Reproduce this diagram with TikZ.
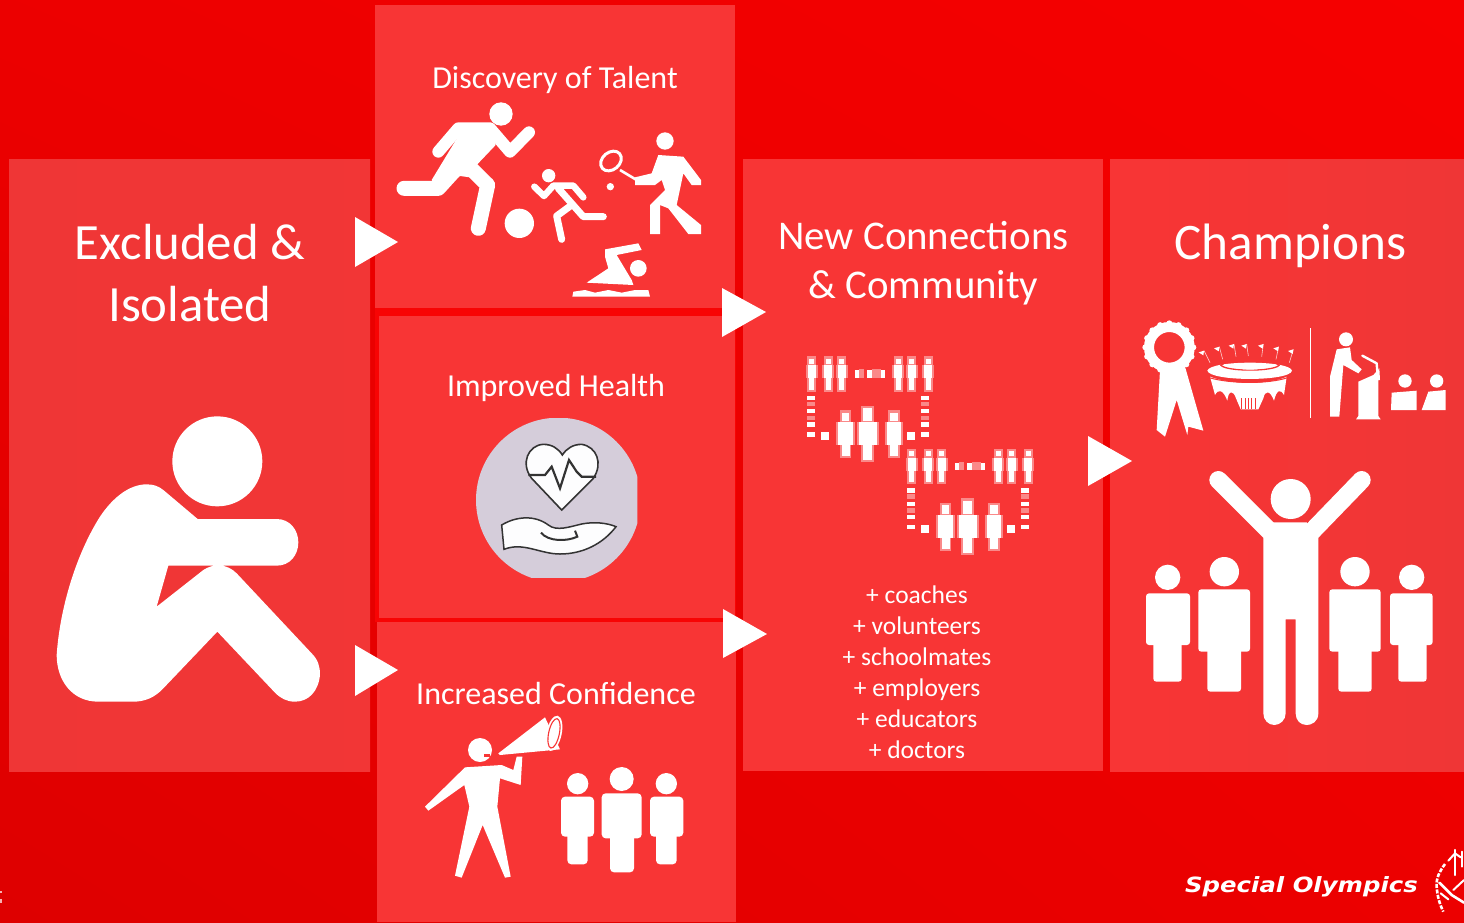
\documentclass[tikz,border=0pt]{standalone}
\usepackage{fontspec}
\usetikzlibrary{shadings}
\setmainfont{Carlito}
\newfontfamily\logofont{DejaVu Sans}
\definecolor{bgA}{HTML}{F60000}
\definecolor{bgB}{HTML}{DE0000}
\definecolor{boxA}{HTML}{F83535}
\definecolor{boxB}{HTML}{EF3636}
\definecolor{edgeR}{HTML}{F80404}
\definecolor{disc}{HTML}{D5CDDA}
\definecolor{ink}{HTML}{333333}
\tikzset{
  panel/.style={fill=boxA,draw=none,inner sep=0pt,outer sep=0pt},
  pointer/.style={fill=white,draw=none},
  lab/.style={text=white,align=center,inner sep=0pt},
  ico/.style={fill=white,draw=none},
  limb/.style={draw=white,line cap=round,line join=round},
  halo/.style={fill=white,fill opacity=.42,draw=none},
}
% pixelated figure: cx, head top, head bottom, body top, body bottom, foot, half width, half leg width
\newcommand{\pixfig}[8]{%
  \fill[halo] (#1-#8-5,#2) rectangle (#1+#8+5,#3);
  \fill[ico] (#1-#8+1,#2+8) rectangle (#1+#8-1,#3-4);
  \fill[halo] (#1-#7-6,#4) rectangle (#1+#7+6,#5);
  \fill[ico] (#1-#7,#4) rectangle (#1+#7,#5);
  \fill[halo] (#1-#8-5,#5) rectangle (#1+#8+5,#6);
  \fill[ico] (#1-#8,#5) rectangle (#1+#8,#6-6);
}
% network of two trios joined by dashes (coordinates of the 3x crop)
\newcommand{\network}{%
  \foreach \c in {65,115,155,325,365,415}{\pixfig{\c}{33}{60}{60}{100}{140}{12}{8}}
  \foreach \a in {195,232,272}{\fill[ico] (\a,76) rectangle ++(13,22);}
  \foreach \a in {208,245,259}{\fill[halo] (\a,72) rectangle ++(13,26);}
  \foreach \b in {152,192,232,262}{
    \fill[ico] (52,\b) rectangle ++(24,13);\fill[ico] (392,\b) rectangle ++(24,13);}
  \foreach \b in {170,212}{
    \fill[halo] (52,\b) rectangle ++(24,13);\fill[halo] (392,\b) rectangle ++(24,13);}
  \fill[ico] (92,262) rectangle ++(24,24);\fill[ico] (352,262) rectangle ++(24,24);
  \pixfig{167}{195}{232}{232}{300}{340}{22}{12}
  \pixfig{233}{182}{232}{232}{300}{352}{27}{14}
  \pixfig{312}{195}{232}{232}{300}{340}{20}{12}
}
\begin{document}
\begin{tikzpicture}[x=1pt,y=-1pt]
\useasboundingbox (0,0) rectangle (1464,922);
\shade[lower left=bgB,upper right=bgA,lower right=bgA!60!bgB,upper left=bgA!60!bgB] (0,0) rectangle (1464,922);
\fill[white!70!bgB] (0,891) rectangle (1.5,893);
\fill[white!70!bgB] (0,899) rectangle (1.5,903);

% panels
\path[panel,left color=boxB,right color=boxB!70!boxA] (9,159) rectangle (370,771);
\fill[edgeR] (375,308) rectangle (736,622);
\path[panel] (375,5) rectangle (735,308);
\path[panel] (379,316) rectangle (735,618);
\path[panel] (377,622) rectangle (736,922);
\path[panel] (743,159) rectangle (1103,771);
\path[panel,left color=boxA,right color=boxB] (1110,159) rectangle (1464,771);

% titles
\node[lab,font=\fontsize{50.8}{62}\selectfont] (excluded) at (190,273) {Excluded \&\\Isolated};
\node[lab,font=\fontsize{32}{36}\selectfont] (talent) at (555,80) {Discovery of Talent};
\node[lab,font=\fontsize{32}{36}\selectfont] (health) at (556,388) {Improved Health};
\node[lab,font=\fontsize{32}{36}\selectfont] (confidence) at (556,693) {Increased Con\kern0pt fidence};
\node[lab,font=\fontsize{40.8}{49}\selectfont] (community) at (923.5,263) {New Connections\\\& Community};
\node[lab,font=\fontsize{51.2}{60}\selectfont] (champions) at (1290.5,246) {Champions};
\node[lab,font=\fontsize{25.5}{31}\selectfont] (list) at (917,672.5) {+ coaches\\+ volunteers\\+ schoolmates\\+ employers\\+ educators\\+ doctors};

% arrows
\fill[pointer] (355,217) -- (398,242) -- (355,267) -- cycle;
\fill[pointer] (355,645) -- (398,670) -- (355,696) -- cycle;
\fill[pointer] (722,288) -- (766,312) -- (722,337) -- cycle;
\fill[pointer] (723,609) -- (767,634) -- (723,658) -- cycle;
\fill[pointer] (1088,436) -- (1132,461) -- (1088,486) -- cycle;

% seated figure
\begin{scope}[shift={(40,400)},scale=1/3]
  \fill[ico] (532,184) circle (135);
  \fill[ico] (320,253) .. controls (340,253) and (355,258) .. (370,270)
    -- (473,357) -- (710,357)
    .. controls (750,357) and (775,390) .. (775,427)
    .. controls (775,465) and (750,497) .. (710,497)
    -- (385,497) -- (350,620) -- (490,510)
    .. controls (520,490) and (560,490) .. (590,520)
    -- (815,760) .. controls (835,780) and (840,800) .. (840,825)
    .. controls (835,875) and (805,905) .. (765,905)
    .. controls (740,905) and (722,895) .. (705,878)
    -- (532,695) -- (370,865)
    .. controls (345,892) and (315,905) .. (280,905)
    -- (175,905) .. controls (95,905) and (50,840) .. (50,765)
    .. controls (60,620) and (110,460) .. (180,350)
    .. controls (220,290) and (270,253) .. (320,253) -- cycle;
\end{scope}

% football runner, small runner, tennis, swimmer
\begin{scope}[shift={(375,90)},scale=1/3]
  \fill[ico] (378,72) circle (35);
  \fill[ico] (433,400) circle (44);
  \draw[limb,line width=12pt] (190,185) -- (250,115) -- (345,115) -- (405,185) -- (462,127);
  \fill[ico] (255,130) -- (345,105) -- (362,165) -- (305,225) -- (345,270) -- (255,258) -- (190,300) -- (170,270) -- cycle;
  \draw[limb,line width=15pt] (87,295) -- (190,295) -- (290,185);
  \draw[limb,line width=15pt] (280,228) -- (338,285) -- (310,415);
  \fill[ico] (521,257) circle (20);
  \draw[limb,line width=6.5pt] (478,290) -- (507,318) -- (535,287) -- (595,287) -- (625,322);
  \draw[limb,line width=7pt] (685,380) -- (625,380) -- (550,295);
  \draw[limb,line width=7pt] (590,345) -- (545,378) -- (560,448);
  \fill[ico] (870,153) circle (26);
  \draw[white,line width=3pt,rotate around={40:(708,213)}] (708,213) ellipse (34 and 26);
  \draw[white,line width=2.6pt] (735,240) -- (785,270);
  \fill[ico] (706,290) circle (11);
  \fill[ico] (850,195) -- (925,200) -- (978,270) -- (978,285) -- (950,285) -- (925,250) -- (905,345) -- (978,405) -- (978,432) -- (940,432) -- (880,355) -- (855,345) -- (855,432) -- (825,432) -- (825,345) -- (870,300) -- (860,270) -- (840,285) -- (780,285) -- (780,262) -- (830,250) -- cycle;
  \fill[ico] (790,535) circle (25);
  \fill[ico] (690,478) -- (790,460) -- (800,480) -- (725,495) -- (770,570) -- (775,585) -- (635,578) -- (700,535) -- (690,500) -- cycle;
  \fill[ico] (592,620) -- (595,605) -- (630,600) -- (660,608) -- (700,600) -- (740,608) -- (780,600) -- (820,600) -- (825,620) -- cycle;
\end{scope}

% health badge
\begin{scope}[shift={(460,410)},scale=1/3]
  \begin{scope}
    \clip (48,25) rectangle (532,503);
    \fill[disc] (295,270) circle (247);
  \end{scope}
  \draw[ink,line width=1.6pt,fill=white!96!disc] (305,300) -- (215,205) .. controls (180,160) and (205,105) .. (250,103) .. controls (275,103) and (295,115) .. (307,135) .. controls (320,115) and (340,103) .. (365,103) .. controls (410,110) and (430,160) .. (400,205) -- cycle;
  \draw[ink,line width=2.2pt] (205,195) -- (255,195) -- (275,170) -- (300,235) -- (327,150) -- (350,185) -- (365,200) -- (408,200);
  \draw[ink,line width=1.5pt,fill=white!96!disc] (125,345) .. controls (170,318) and (225,315) .. (265,345) .. controls (290,365) and (330,350) .. (365,342) .. controls (400,335) and (440,338) .. (468,350) .. controls (430,400) and (370,432) .. (300,432) .. controls (240,432) and (190,395) .. (132,418) -- cycle;
  \draw[ink,line width=2pt] (243,368) .. controls (265,395) and (320,395) .. (352,380) -- (345,362);
\end{scope}

% megaphone speaker and audience
\begin{scope}[shift={(410,710)},scale=1/3]
  \fill[ico] (210,120) circle (36);
  \fill[ico] (265,130) -- (405,22) -- (450,118) -- (270,135) -- cycle;
  \fill[ico,rotate around={-12:(432,70)}] (432,70) ellipse (23 and 54);
  \draw[boxA,line width=1.1pt,rotate around={-12:(432,70)}] (432,70) ellipse (16 and 45);
  \fill[boxA] (222,133) rectangle (240,141);
  \fill[ico] (165,172) -- (275,165) -- (310,180) -- (320,140) -- (337,140) -- (332,225) -- (270,205) -- (262,290) -- (302,500) -- (285,503) -- (218,345) -- (155,503) -- (135,497) -- (178,290) -- (163,225) -- (55,302) -- (45,290) -- cycle;
  \fill[ico] (503,221) circle (32);
  \fill[ico,rounded corners=4pt] (453,260) rectangle (552,380);
  \fill[ico,rounded corners=4pt] (472,360) rectangle (533,463);
  \fill[ico] (635,207) circle (36);
  \fill[ico,rounded corners=4pt] (575,250) rectangle (695,385);
  \fill[ico,rounded corners=4pt] (600,370) rectangle (672,487);
  \fill[ico] (769,221) circle (32);
  \fill[ico,rounded corners=4pt] (720,260) rectangle (820,380);
  \fill[ico,rounded corners=4pt] (738,360) rectangle (800,463);
\end{scope}

% community networks
\begin{scope}[shift={(790,345)},scale=1/3]
  \network
  \begin{scope}[shift={(300,278)}]
    \network
  \end{scope}
\end{scope}

% awards row
\begin{scope}[shift={(1110,310)},scale=1/3]
  \draw[white,line width=10pt] (178,112) circle (61);
  \foreach \t in {0,22.5,...,337.5}{\fill[ico] ({178+72*cos(\t)},{112+72*sin(\t)}) circle (9);}
  \fill[ico] (150,180) -- (225,170) -- (280,362) -- (235,350) -- (232,375) -- (200,270) -- (165,380) -- (140,360) -- cycle;
  \fill[ico] (292,182) .. controls (300,150) and (540,150) .. (546,182) .. controls (540,215) and (300,215) .. (292,182) -- cycle;
  \fill[ico] (300,200) .. controls (360,225) and (480,225) .. (530,200) -- (522,255) .. controls (510,235) and (500,240) .. (492,272) .. controls (480,240) and (465,240) .. (460,265) -- (445,298) -- (392,298) -- (378,265) .. controls (370,240) and (355,240) .. (352,272) .. controls (340,240) and (325,235) .. (315,255) -- cycle;
  \draw[boxA,line width=1pt] (298,203) .. controls (360,222) and (480,222) .. (532,203);
  \draw[boxA,line width=1.3pt] (333,166) .. controls (350,145) and (490,145) .. (507,166) .. controls (490,185) and (350,185) .. (333,166) -- cycle;
  \draw[white,line width=.5pt] (355,166) .. controls (380,182) and (460,182) .. (487,166);
  \foreach \x in {395,405,415,425,435}{\draw[boxA,line width=.6pt] (\x,265) -- (\x,298);}
  \foreach \xa/\ya/\xb/\yb in {300/158/282/122,338/148/328/110,378/140/372/102,415/138/410/102,455/140/460/102,498/148/506/110,538/158/550/118}{
    \draw[white!75!boxA,line width=.6pt] (\xa,\ya) -- (\xb,\yb);
    \fill[ico] (\xb,\yb) -- ++(-16,5) -- ++(14,9) -- cycle;}
  \fill[white] (599,55) rectangle (604,325);
  \fill[ico] (708,88) circle (21);
  \fill[ico] (680,118) -- (720,112) -- (725,150) -- (755,178) -- (745,190) -- (700,165) -- (688,320) -- (660,320) -- (660,200) -- cycle;
  \draw[limb,line width=2.4pt] (757,137) -- (800,160) -- (802,185);
  \fill[ico] (745,215) -- (790,195) -- (808,175) -- (810,210) -- (805,210) -- (805,318) -- (812,328) -- (738,328) -- (745,318) -- cycle;
  \fill[ico] (885,213) circle (20);
  \fill[ico] (845,248) -- (920,242) -- (920,300) -- (843,300) -- cycle;
  \fill[ico] (980,213) circle (20);
  \fill[ico] (955,245) -- (1007,240) -- (1007,300) -- (935,300) -- cycle;
\end{scope}

% crowd with raised arms
\begin{scope}[shift={(1130,460)},scale=1/3]
  \fill[ico] (482,117) circle (60);
  \draw[limb,line width=18pt] (265,60) -- (420,215);
  \draw[limb,line width=18pt] (695,60) -- (545,215);
  \fill[ico] (430,187) -- (530,187) -- (565,235) -- (565,760) .. controls (565,785) and (545,795) .. (530,795) .. controls (510,795) and (497,780) .. (497,760) -- (497,478) -- (467,478) -- (467,760) .. controls (467,780) and (450,795) .. (433,795) .. controls (415,795) and (400,780) .. (400,760) -- (400,235) -- cycle;
  \foreach \cx/\hy/\hr/\bl/\br/\bt/\bb/\ll/\lr/\lb in {113/352/38/48/180/400/555/70/155/665, 283/335/44/205/360/388/575/232/333/695, 675/335/44/598/752/388/575/625/725/695, 845/352/38/780/908/400/555/805/890/665}{
    \fill[ico] (\cx,\hy) circle (\hr);
    \fill[ico,rounded corners=3pt] (\bl,\bt) rectangle (\br,\bb);
    \fill[ico,rounded corners=3pt] (\ll,\bb-30) rectangle (\lr,\lb);
  }
\end{scope}

% logo
\node[lab,font={\logofont\bfseries\itshape\fontsize{21}{21}\selectfont}] (logo) at (1301.5,887) {\scalebox{1.16}[1]{Special Olympics}};
\begin{scope}[shift={(1420,840)},scale=1/3]
  \draw[white,line width=2.6pt,dash pattern=on 4pt off 1.5pt] (75,72) .. controls (58,95) and (48,115) .. (50,140) .. controls (52,170) and (60,195) .. (70,215);
  \draw[limb,line width=2.4pt] (105,30) -- (105,105);
  \draw[limb,line width=2pt] (85,62) -- (105,40) -- (122,52);
  \draw[limb,line width=2pt] (125,35) -- (125,80);
  \draw[limb,line width=2.6pt] (58,128) -- (95,165) -- (132,188);
  \draw[limb,line width=2pt] (100,150) -- (132,120);
  \draw[limb,line width=2pt] (62,160) -- (85,178);
\end{scope}
\end{tikzpicture}
\end{document}
